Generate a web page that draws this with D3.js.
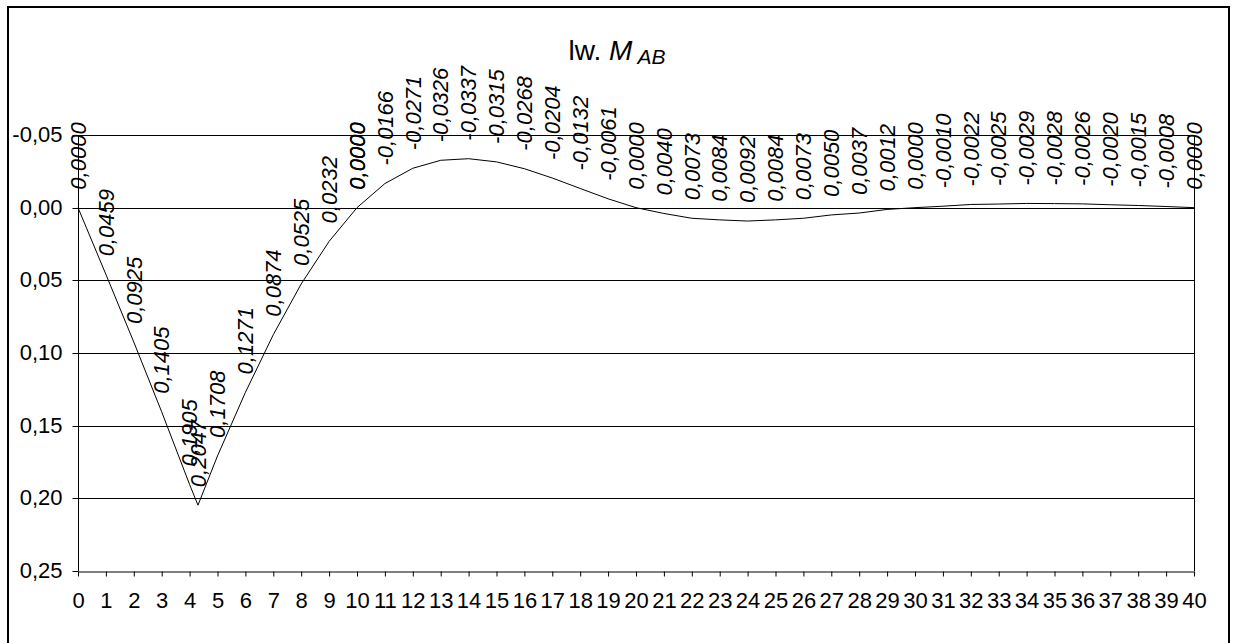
<!DOCTYPE html>
<html><head><meta charset="utf-8">
<script src="https://cdn.jsdelivr.net/npm/d3@7/dist/d3.min.js"></script>
<style>
body{margin:0;background:#fff;}
text{font-family:"Liberation Sans",Arial,sans-serif;fill:#000;}
</style></head>
<body><svg id="c" width="1234" height="643"></svg>
<script>
// data
const positions = [0,1,2,3,4,4.3,5,6,7,8,9,10,10,11,12,13,14,15,16,17,18,19,20,21,22,23,24,25,26,27,28,29,30,31,32,33,34,35,36,37,38,39,40];
const values = [0.0000,0.0459,0.0925,0.1405,0.1905,0.2047,0.1708,0.1271,0.0874,0.0525,0.0232,0.0000,0.0000,-0.0166,-0.0271,-0.0326,-0.0337,-0.0315,-0.0268,-0.0204,-0.0132,-0.0061,0.0000,0.0040,0.0073,0.0084,0.0092,0.0084,0.0073,0.0050,0.0037,0.0012,0.0000,-0.0010,-0.0022,-0.0025,-0.0029,-0.0028,-0.0026,-0.0020,-0.0015,-0.0008,0.0000];
const xTicks = d3.range(0,41);
const yTicks = [-0.05,0.00,0.05,0.10,0.15,0.20,0.25];

const svg = d3.select("#c");
const x = d3.scaleLinear().domain([0,40]).range([78,1194]);
const y = d3.scaleLinear().domain([-0.05,0.25]).range([135,571]);
const fmt = v => d3.format(".2f")(v).replace(".",",").replace("\u2212","-");
const fmt4 = v => d3.format(".4f")(v).replace(".",",").replace("\u2212","-");
const FS = 22;

// frame
svg.append("rect").attr("x",8).attr("y",7).attr("width",1221).attr("height",640)
  .attr("fill","none").attr("stroke","#000").attr("stroke-width",2);

// gridlines
svg.append("g").selectAll("line").data(yTicks.slice(0,-1)).join("line")
  .attr("x1",x(0)).attr("x2",x(40)).attr("y1",d=>Math.round(y(d))+0.5).attr("y2",d=>Math.round(y(d))+0.5)
  .attr("stroke","#000").attr("stroke-width",1);
// right vertical line
svg.append("line").attr("x1",Math.round(x(40))+0.5).attr("x2",Math.round(x(40))+0.5)
  .attr("y1",y(-0.05)).attr("y2",y(0.25)).attr("stroke","#000");

// y axis
const yAxis = d3.axisLeft(y).tickValues(yTicks).tickFormat(fmt).tickSize(6).tickPadding(10);
const gy = svg.append("g").attr("transform",`translate(${Math.round(x(0))+0.5},0)`).call(yAxis);
gy.select(".domain").attr("stroke","#000").attr("d",`M0,${y(-0.05)}V${y(0.25)}`);
gy.selectAll("text").attr("font-size",FS).attr("font-family","Liberation Sans, Arial, sans-serif").attr("dy","0.3em");
gy.selectAll(".tick").attr("transform",d=>`translate(0,${Math.round(y(d))+0.5})`);

// x axis
const xAxis = d3.axisBottom(x).tickValues(xTicks).tickFormat(d3.format("d")).tickSize(5).tickSizeOuter(0).tickPadding(16);
const gx = svg.append("g").attr("transform",`translate(0,${Math.round(y(0.25))+0.5})`).call(xAxis);
gx.select(".domain").attr("stroke","#000");
gx.selectAll("text").attr("font-size",FS).attr("font-family","Liberation Sans, Arial, sans-serif");

// line
const line = d3.line().x((d,i)=>x(positions[i])).y(d=>y(d));
svg.append("path").datum(values).attr("d",line).attr("fill","none").attr("stroke","#000").attr("stroke-width",1);

// data labels
svg.append("g").selectAll("text").data(values).join("text")
  .attr("transform",(d,i)=>`translate(${x(positions[i])},${y(d)-18}) rotate(-90)`)
  .attr("dy","0.35em").attr("text-anchor","start")
  .attr("font-size",FS).attr("font-style","italic")
  .text(d=>fmt4(d));

// title
const t = svg.append("text").attr("x",617).attr("y",60).attr("text-anchor","middle").attr("font-size",28);
t.append("tspan").text("lw. ");
t.append("tspan").attr("font-style","italic").text("M");
t.append("tspan").attr("font-style","italic").attr("font-size",21).attr("dy",4).text(" AB");
</script></body></html>
